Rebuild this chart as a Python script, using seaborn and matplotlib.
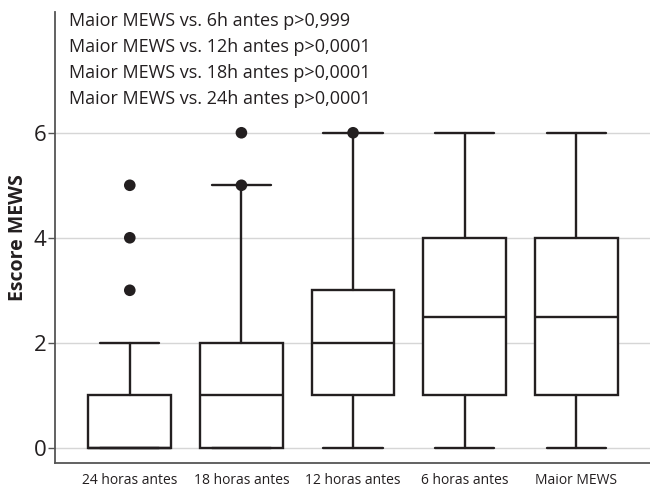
import matplotlib
matplotlib.use("Agg")
import matplotlib.pyplot as plt
import seaborn as sns
import pandas as pd

categories = ["24 horas antes", "18 horas antes", "12 horas antes", "6 horas antes", "Maior MEWS"]
whisker_low = [0, 0, 0, 0, 0]
q1 = [0, 0, 1, 1, 1]
median = [0, 1, 2, 2.5, 2.5]
q3 = [1, 2, 3, 4, 4]
whisker_high = [2, 5, 6, 6, 6]
outliers = [[3, 4, 5], [5, 6], [6], [], []]
annotations = [
    "Maior MEWS vs. 6h antes p>0,999",
    "Maior MEWS vs. 12h antes p>0,0001",
    "Maior MEWS vs. 18h antes p>0,0001",
    "Maior MEWS vs. 24h antes p>0,0001",
]
y_ticks = [0, 2, 4, 6]

sns.set_theme(style="white")
plt.rcParams["font.family"] = ["Open Sans", "DejaVu Sans"]

fig = plt.figure(figsize=(6.5, 4.88), dpi=100)
# axes spans from y=12 px to y=463 px
ax = fig.add_axes([0.0846, 0.0512, 0.9154, 0.9242])

for y in y_ticks:
    ax.axhline(y, color="#d6d6d6", lw=1.0, zorder=0)

stats = []
for i, c in enumerate(categories):
    stats.append(dict(label=c, whislo=whisker_low[i], q1=q1[i], med=median[i],
                      q3=q3[i], whishi=whisker_high[i], fliers=[]))

lc = "#231f20"
ax.bxp(stats, positions=range(len(categories)), widths=0.74, capwidths=0.53,
       showfliers=False, patch_artist=True,
       boxprops=dict(facecolor="white", edgecolor=lc, linewidth=1.7),
       medianprops=dict(color=lc, linewidth=1.7),
       whiskerprops=dict(color=lc, linewidth=1.7),
       capprops=dict(color=lc, linewidth=1.7), zorder=2)

fl = pd.DataFrame([(i, v) for i, vals in enumerate(outliers) for v in vals], columns=["x", "y"])
sns.scatterplot(data=fl, x="x", y="y", ax=ax, color=lc, s=70, edgecolor="none", zorder=3)

ax.set_xlim(-0.67, 4.66)
ax.set_ylim(-0.29, 8.30)
ax.set_yticks(y_ticks)
ax.set_yticklabels([str(t) for t in y_ticks], fontsize=16, color=lc)
ax.set_xticks(range(len(categories)))
ax.set_xticklabels(categories, fontsize=10, color=lc)
ax.set_xlabel("")
ax.set_ylabel("Escore MEWS", fontsize=14, fontweight="bold", color=lc, labelpad=4)
ax.tick_params(axis="y", left=True, length=5, width=1, color="#555555", pad=1)
ax.tick_params(axis="x", bottom=False, pad=1)
for s in ["top", "right"]:
    ax.spines[s].set_visible(False)
for s in ["left", "bottom"]:
    ax.spines[s].set_color("#555555")
    ax.spines[s].set_linewidth(1.3)

ys = [8.13, 7.64, 7.14, 6.65]
for t, y in zip(annotations, ys):
    ax.text(-0.547, y, t, fontsize=13, color=lc, va="center", ha="left")

fig.savefig("out.png", dpi=100)
